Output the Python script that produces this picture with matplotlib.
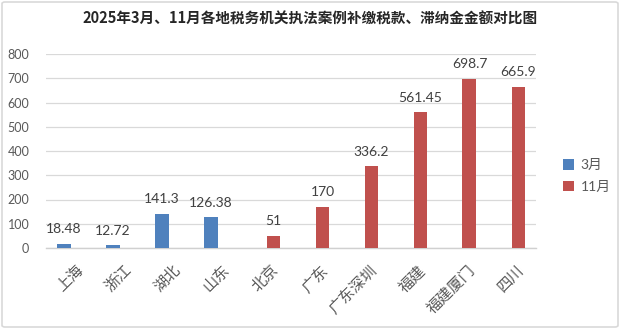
import matplotlib
matplotlib.use("Agg")
import matplotlib.pyplot as plt
import numpy as np
from matplotlib.patches import FancyBboxPatch

plt.rcParams['font.family'] = ['Lato', 'Noto Sans CJK SC', 'DejaVu Sans']

categories = ['上海', '浙江', '湖北', '山东', '北京', '广东', '广东深圳', '福建', '福建厦门', '四川']
march = [18.48, 12.72, 141.3, 126.38, None, None, None, None, None, None]
november = [None, None, None, None, 51, 170, 336.2, 561.45, 698.7, 665.9]
series_names = ['3月', '11月']
yticks = [0, 100, 200, 300, 400, 500, 600, 700, 800]
title = '2025年3月、11月各地税务机关执法案例补缴税款、滞纳金金额对比图'

blue = '#4F81BD'
red = '#C0504D'
text_gray = '#595959'
label_gray = '#404040'

fig = plt.figure(figsize=(6.2, 3.29), dpi=100)
ax = fig.add_axes([46 / 620, 1 - 248 / 329, 490 / 620, 194 / 329])

x = np.arange(len(categories))
w = 0.2857

def draw_series(vals, offset, color):
    xs = [xi + offset for xi, v in zip(x, vals) if v is not None]
    vs = [v for v in vals if v is not None]
    bars = ax.bar(xs, vs, width=w, color=color, zorder=3)
    for bx, v in zip(xs, vs):
        ax.annotate(f'{v:g}', (bx, v), xytext=(0, 6), textcoords='offset points',
                    ha='center', va='bottom', fontsize=10, color=label_gray,
                    family=['Lato', 'DejaVu Sans'])
    return bars

b1 = draw_series(march, -w / 2, blue)
b2 = draw_series(november, w / 2, red)

ax.set_xlim(-0.5, len(categories) - 0.5)
ax.set_ylim(0, 800)
ax.set_yticks(yticks)
ax.set_yticklabels([str(t) for t in yticks], fontsize=9, color=text_gray)
ax.yaxis.grid(True, color='#D9D9D9', linewidth=0.9, zorder=0)
ax.set_axisbelow(True)
for s in ['top', 'right', 'left']:
    ax.spines[s].set_visible(False)
ax.spines['bottom'].set_color('#D0D0D0')
ax.spines['bottom'].set_linewidth(1.0)
ax.tick_params(axis='y', length=0, pad=12)
ax.tick_params(axis='x', length=0, pad=10)

ax.set_xticks(x + 0.08)
ax.set_xticklabels(categories, rotation=45, ha='right', va='top', rotation_mode='anchor',
                   fontsize=11, color=text_gray, family=['Noto Sans CJK SC', 'DejaVu Sans'])

fig.text(0.5, 1 - 19 / 329, title, ha='center', va='center', fontsize=10.5,
         fontweight='bold', color='#262626', family=['Noto Sans CJK SC', 'DejaVu Sans'])

leg = fig.legend([b1, b2], series_names, loc='center left',
                 bbox_to_anchor=(550 / 620, 1 - 176 / 329), frameon=False,
                 handlelength=0.8, handleheight=0.8, handletextpad=0.5,
                 labelspacing=0.7,
                 prop={'family': ['Lato', 'Noto Sans CJK SC'], 'size': 10})
for t in leg.get_texts():
    t.set_color(text_gray)

border = FancyBboxPatch((2 / 620, 2 / 329), 616 / 620, 325 / 329,
                        boxstyle='round,pad=0,rounding_size=0.005',
                        transform=fig.transFigure, fill=False,
                        edgecolor='#D9D9D9', linewidth=1.2)
fig.patches.append(border)

fig.savefig('out.png', dpi=100)
